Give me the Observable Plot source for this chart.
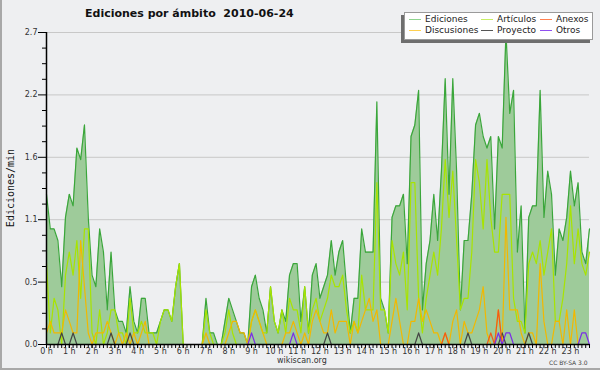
<!DOCTYPE html>
<html>
<head>
<meta charset="utf-8">
<script src="https://cdn.jsdelivr.net/npm/d3@7"></script>
<script src="https://cdn.jsdelivr.net/npm/@observablehq/plot@0.6"></script>
<style>
  html, body { margin: 0; padding: 0; background: #eeeff1; }
  #wrap { position: relative; width: 600px; height: 370px; background: #eeeff1; overflow: hidden; font-family: "DejaVu Sans", sans-serif; }
  #frame { position: absolute; left: 0; top: 0; width: 598px; height: 368px; border-left: 2px solid #a8a8a8; border-bottom: 2px solid #a8a8a8; pointer-events: none; }
  #title { position: absolute; left: 85px; top: 7px; font: bold 11px "DejaVu Sans", sans-serif; color: #111; white-space: pre; }
  #ylabel { position: absolute; left: 10px; top: 188px; transform: translate(-50%, -50%) rotate(-90deg); font: 10px "DejaVu Sans Mono", monospace; color: #111; white-space: nowrap; }
  #legend { position: absolute; left: 404px; top: 12px; width: 187px; height: 26px; background: #fff; border: 1px solid #9a9a9a; box-shadow: -3px 3px 0 #6e6e6e; }
  .li { position: absolute; font: 9px "DejaVu Sans", sans-serif; color: #222; white-space: nowrap; line-height: 10px; }
  .sw { position: absolute; height: 1px; width: 12px; }
  #site { position: absolute; left: 277px; top: 356px; font: 8px "DejaVu Sans", sans-serif; color: #333; }
  #cc { position: absolute; left: 549px; top: 359px; font: 6px "DejaVu Sans", sans-serif; color: #444; }
</style>
</head>
<body>
<div id="wrap">
  <div id="chart"></div>
  <div id="title"></div>
  <div id="ylabel"></div>
  <div id="legend"></div>
  <div id="site"></div>
  <div id="cc"></div>
  <div id="frame"></div>
</div>
<script>
// Values per 10-minute slot (edits per minute), 144 slots from 0:00 to 23:50
const ediciones = [
  1.3,1.0,1.0,0.9,0.5,1.1,1.3,1.2,1.7,1.6,
  1.9,1.1,0.6,0.5,1.0,0.8,0.3,0.8,0.3,0.2,
  0.2,0.1,0.5,0.2,0.1,0.4,0.4,0.1,0.1,0.1,
  0.2,0.3,0.3,0.2,0.5,0.7,0,0,0,0,
  0,0,0.4,0.1,0.1,0,0,0.2,0.4,0.3,
  0.2,0.1,0.1,0,0.5,0.6,0.4,0.3,0.1,0.5,
  0.2,0.1,0.3,0.2,0.6,0.7,0.7,0.2,0.5,0.1,
  0.6,0.7,0.4,0.5,0.6,0.9,0.6,0.8,0.9,0.5,
  0.1,0.4,0.4,1.0,0.8,0.8,0.8,2.1,0.4,0.3,
  0.1,1.1,1.2,1.2,1.3,0.7,1.8,1.9,2.2,0.3,
  0.7,0.9,1.3,0.9,1.5,2.3,1.3,2.3,1.5,0.3,
  0.9,0.9,1.3,1.9,2.0,1.8,1.7,1.8,1.0,1.8,
  1.7,2.7,2.0,2.2,0.8,1.2,0.1,1.1,1.2,1.2,
  2.2,1.1,1.5,1.3,0.6,1.0,0.9,1.1,1.5,1.2,
  1.4,0.8,0.7,1.0
];
const articulos = [
  0.7,0.1,0.4,0.3,0,0.6,0.8,0.6,0.9,0.4,
  1.0,1.0,0.1,0,0.3,0,0.1,0.3,0.3,0.1,
  0.1,0,0.4,0.1,0.1,0.2,0.1,0.1,0.1,0,
  0.2,0.3,0.3,0.2,0.5,0.7,0,0,0,0,
  0,0,0.3,0.1,0,0,0,0.1,0.3,0.1,
  0,0,0,0,0.2,0.3,0.2,0.1,0.1,0.5,
  0.2,0.1,0.3,0.1,0.4,0.3,0.3,0.1,0.5,0.1,
  0.3,0.4,0.2,0.3,0.4,0.6,0.5,0.5,0.6,0.3,
  0.1,0.2,0.1,0.6,0.3,0.3,0.3,1.4,0.3,0.3,
  0.1,0.9,0.7,0.6,0.8,0.3,1.4,1.4,0.4,0.1,
  0.4,0.6,0.8,0.6,1.0,1.6,1.1,1.5,0.9,0.3,
  0.4,0.4,0.8,1.6,1.4,1.0,1.6,1.1,0.8,0.8,
  1.3,1.3,1.3,0.4,0.2,0.2,0.1,0.7,0.8,0.7,
  0.9,0.6,0.8,1.0,0.2,0.2,0.4,0.7,1.2,0.7,
  1.0,0.7,0.6,0.8
];
const discusiones = [
  0.1,0.2,0.1,0.1,0.1,0.3,0.2,0.1,0.1,0.9,
  0.5,0.1,0,0.1,0.1,0.1,0.2,0.1,0,0.1,
  0,0.1,0,0.1,0,0.1,0.2,0,0,0,
  0,0,0,0,0,0,0,0,0,0,
  0,0,0.1,0,0,0,0,0,0.1,0.2,
  0.2,0.1,0.1,0,0.2,0.3,0.2,0.1,0,0,
  0,0,0,0.1,0.1,0.2,0.1,0,0.1,0,
  0.2,0.3,0.2,0.1,0.1,0.3,0.1,0.2,0.2,0.2,
  0,0.2,0.1,0.2,0.3,0.4,0.2,0.3,0,0,
  0,0.2,0.4,0.2,0,0,0.2,0.2,0.4,0.2,
  0.3,0.2,0.1,0.1,0,0.1,0,0.2,0.3,0,
  0.2,0.1,0.1,0.2,0.3,0.5,0.1,0,0,0.3,
  0,1.1,0.3,0.3,0.3,0.1,0,0.1,0.1,0,
  0.7,0.2,0,0,0.2,0.2,0,0.3,0,0.3,
  0,0,0,0
];
const proyecto = [
  0,0,0,0,0.1,0,0,0.1,0,0,
  0,0,0,0,0,0,0,0.1,0,0,
  0,0,0.1,0,0,0,0,0,0,0,
  0,0,0,0,0,0,0,0,0,0,
  0,0,0,0,0,0,0,0,0,0,
  0,0,0,0,0,0,0,0,0,0,
  0,0,0,0,0,0,0,0,0,0,
  0,0,0,0,0.1,0,0,0,0,0,
  0,0,0,0,0,0,0,0,0,0,
  0,0,0,0,0,0,0,0,0.1,0,
  0,0,0,0,0,0,0,0,0,0,
  0,0.1,0,0,0,0,0,0,0,0,
  0.1,0,0,0,0,0,0,0.1,0,0,
  0,0,0,0,0,0,0,0,0,0,
  0,0,0,0
];
const anexos = [
  0,0,0,0,0,0,0,0,0,0,
  0,0,0,0,0,0,0,0,0,0,
  0,0,0,0,0,0,0,0,0,0,
  0,0,0,0,0,0,0,0,0,0,
  0,0,0,0,0,0,0,0,0,0,
  0,0,0,0,0,0,0,0,0,0,
  0,0,0,0,0,0,0,0,0,0,
  0,0,0,0,0,0,0,0,0,0,
  0,0,0,0,0,0,0,0,0,0,
  0,0,0,0,0,0,0,0,0,0,
  0,0,0,0,0,0.1,0,0,0,0,
  0,0,0,0,0,0,0,0.1,0,0.3,
  0,0,0,0,0,0,0,0,0,0,
  0,0,0,0,0,0,0,0,0,0,
  0,0,0,0
];
const otros = [
  0,0,0,0,0,0,0,0,0,0,
  0,0,0,0,0,0,0,0,0,0,
  0,0,0,0,0,0,0,0,0,0,
  0,0,0,0,0,0,0,0,0,0,
  0,0,0,0,0,0,0,0,0,0,
  0,0,0,0,0.1,0,0,0,0,0,
  0,0,0,0,0,0.1,0,0,0,0,
  0,0,0,0,0,0,0,0,0,0,
  0,0,0,0,0,0,0,0,0,0,
  0,0,0,0,0,0,0,0,0,0,
  0,0,0,0,0,0,0,0,0,0,
  0,0,0,0,0,0,0,0,0,0.1,
  0,0.1,0.1,0,0,0,0,0,0,0,
  0,0,0,0,0,0,0,0,0,0,
  0,0.1,0.1,0
];
const hourLabels = ["0 h","1 h","2 h","3 h","4 h","5 h","6 h","7 h","8 h","9 h","10 h","11 h",
  "12 h","13 h","14 h","15 h","16 h","17 h","18 h","19 h","20 h","21 h","22 h","23 h"];
const yTicks = [0, 0.54, 1.08, 1.62, 2.16, 2.7];
const yMinorTicks = [0.135, 0.27, 0.405, 0.675, 0.81, 0.945, 1.215, 1.35, 1.485, 1.755, 1.89, 2.025, 2.295, 2.43, 2.565];
const seriesNames = ["Ediciones", "Artículos", "Anexos", "Discusiones", "Proyecto", "Otros"];
const seriesColors = ["#3aa63a", "#a8e400", "#f05a1a", "#f2b800", "#444444", "#7b2ee6"];
const legendColors = ["#8fd48f", "#c8ee66", "#ff8050", "#ffd050", "#555555", "#9050f0"];

const titleText = "Ediciones por ámbito  2010-06-24";
const yLabelText = "Ediciones/min";

const slots = d3.range(ediciones.length);
const hourSlots = slots.filter(i => i % 6 === 0);

const lineFor = (vals, color) => Plot.lineY(vals, {x: (d, i) => i, y: d => d, stroke: color, strokeWidth: 1.2});

const chart = Plot.plot({
  width: 600,
  height: 370,
  marginLeft: 46,
  marginRight: 11,
  marginTop: 32,
  marginBottom: 26,
  style: {background: "transparent", color: "#333", fontFamily: "DejaVu Sans, sans-serif", fontSize: "8px"},
  x: {domain: [0, slots.length - 1]},
  y: {domain: [0, 2.7]},
  marks: [
    Plot.ruleY(yTicks.slice(1), {stroke: "#c8c8c8", strokeWidth: 1}),
    Plot.areaY(ediciones, {x: (d, i) => i, y: d => d, fill: "#9ecb9a"}),
    lineFor(ediciones, seriesColors[0]),
    lineFor(articulos, seriesColors[1]),
    lineFor(discusiones, seriesColors[3]),
    lineFor(proyecto, seriesColors[4]),
    lineFor(anexos, seriesColors[2]),
    lineFor(otros, seriesColors[5]),
    Plot.axisY(yMinorTicks, {tickSize: 4, tickFormat: () => "", label: null, stroke: "#000"}),
    Plot.axisY(yTicks, {tickSize: 8, tickPadding: 1, tickFormat: d => d.toFixed(1), label: null, stroke: "#000", fill: "#333"}),
    Plot.axisX(slots, {tickSize: 4, tickFormat: () => "", label: null, stroke: "#000"}),
    Plot.axisX(hourSlots, {tickSize: 4, tickPadding: 0, tickFormat: i => hourLabels[i / 6], label: null, stroke: "#000", fill: "#333"}),
    Plot.ruleX([0], {stroke: "#000", strokeWidth: 1.5}),
    Plot.ruleY([0], {stroke: "#000", strokeWidth: 1.5})
  ]
});
document.getElementById("chart").appendChild(chart);

document.getElementById("title").textContent = titleText;
document.getElementById("ylabel").textContent = yLabelText;
document.getElementById("site").textContent = "wikiscan.org";
document.getElementById("cc").textContent = "CC BY-SA 3.0";

// legend: 3 columns x 2 rows
const legend = document.getElementById("legend");
const colX = [4, 76, 135];   // swatch x inside box
const rowY = [6, 17];        // line y inside box
seriesNames.forEach((name, k) => {
  const c = k % 3, r = Math.floor(k / 3);
  const sw = document.createElement("div");
  sw.className = "sw";
  sw.style.left = colX[c] + "px";
  sw.style.top = rowY[r] + "px";
  sw.style.background = legendColors[k];
  legend.appendChild(sw);
  const t = document.createElement("div");
  t.className = "li";
  t.style.left = (colX[c] + 16) + "px";
  t.style.top = (rowY[r] - 5) + "px";
  t.textContent = name;
  legend.appendChild(t);
});
</script>
</body>
</html>
